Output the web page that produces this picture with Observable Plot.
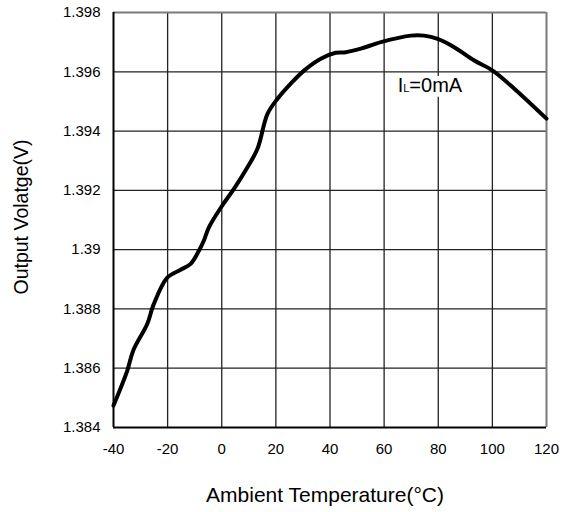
<!DOCTYPE html>
<html>
<head>
<meta charset="utf-8">
<script src="https://cdn.jsdelivr.net/npm/d3@7"></script>
<script src="https://cdn.jsdelivr.net/npm/@observablehq/plot@0.6"></script>
<style>
  html, body { margin: 0; padding: 0; background: #fff; }
</style>
</head>
<body>
<div id="chart"></div>
<script>
const temps = [-40, -34.9, -32.7, -27.5, -25.3, -20.2, -15.2, -11.5, -8.4, -6.6, -4.7, 0.2, 4.5, 9.5, 13.2, 16.9, 20.6, 25.5, 30.4, 36.6, 42.1, 45.8, 51.4, 58.8, 69.9, 74.8, 79.8, 85.9, 93.3, 100.1, 108.1, 120];
const volts = [1.38474, 1.38592, 1.3866, 1.3875, 1.38812, 1.38905, 1.38932, 1.38952, 1.38997, 1.39031, 1.39076, 1.39149, 1.39205, 1.39278, 1.3934, 1.39458, 1.39509, 1.3956, 1.39604, 1.39644, 1.39664, 1.39666, 1.39678, 1.397, 1.39722, 1.39722, 1.39711, 1.39683, 1.39638, 1.39604, 1.39543, 1.39442];
const xTicks = [-40, -20, 0, 20, 40, 60, 80, 100, 120];
const yTicks = [1.384, 1.386, 1.388, 1.39, 1.392, 1.394, 1.396, 1.398];
const seriesLabel = "IL=0mA";
const labelAt = {x: 65, y: 1.39553};
const xTitle = "Ambient Temperature(°C)";
const yTitle = "Output Volatge(V)";

const data = temps.map((t, i) => ({t, v: volts[i]}));
const xMin = xTicks[0], xMax = xTicks[xTicks.length - 1];
const yMin = yTicks[0], yMax = yTicks[yTicks.length - 1];

const labelOpts = {x: () => labelAt.x, y: () => labelAt.y, text: d => d, textAnchor: "start",
  lineAnchor: "middle", fontSize: 20};

const chart = Plot.plot({
  width: 566,
  height: 512,
  marginLeft: 113,
  marginRight: 20,
  marginTop: 12,
  marginBottom: 85,
  style: {fontFamily: "'Liberation Sans', Arial, sans-serif", fontSize: "15px", background: "#fff", color: "#000"},
  x: {domain: [xMin, xMax]},
  y: {domain: [yMin, yMax]},
  marks: [
    Plot.ruleX(xTicks.slice(1, -1), {stroke: "#222", strokeWidth: 1.3}),
    Plot.ruleY(yTicks.slice(1, -1), {stroke: "#222", strokeWidth: 1.3}),
    Plot.ruleX([xMax], {stroke: "#7a7a7a", strokeWidth: 2}),
    Plot.ruleY([yMax], {stroke: "#7a7a7a", strokeWidth: 2}),
    Plot.ruleX([xMin], {stroke: "#000", strokeWidth: 2}),
    Plot.ruleY([yMin], {stroke: "#000", strokeWidth: 2}),
    Plot.axisX({ticks: xTicks, tickSize: 0, tickPadding: 16, label: null, fontSize: 15, fill: "#000",
      tickFormat: d => String(d)}),
    Plot.axisY({ticks: yTicks, tickSize: 0, tickPadding: 13, label: null, fontSize: 15, fill: "#000",
      tickFormat: d => String(+d.toFixed(3))}),
    Plot.text([seriesLabel], {...labelOpts, fill: "#fff", stroke: "#fff", strokeWidth: 10, className: "series-label-halo"}),
    Plot.text([seriesLabel], {...labelOpts, fill: "#000", className: "series-label"}),
    Plot.line(data, {x: "t", y: "v", stroke: "#000", strokeWidth: 4, curve: "catmull-rom"}),
    Plot.text([xTitle], {frameAnchor: "bottom", textAnchor: "middle", lineAnchor: "middle", dy: 68, dx: -5, fontSize: 21, fill: "#000"}),
    Plot.text([yTitle], {frameAnchor: "left", textAnchor: "middle", lineAnchor: "middle", rotate: -90, dx: -92, dy: -3, fontSize: 19.5, fill: "#000"})
  ]
});
document.getElementById("chart").appendChild(chart);

// small "L" (subscript style) in the series label
d3.select(chart).selectAll("g.series-label text, g.series-label-halo text").each(function() {
  const t = d3.select(this);
  const txt = t.text();
  t.text(null);
  t.append("tspan").text(txt.slice(0, 1));
  t.append("tspan").attr("font-size", 11).text(txt.slice(1, 2));
  t.append("tspan").text(txt.slice(2));
});
</script>
</body>
</html>
